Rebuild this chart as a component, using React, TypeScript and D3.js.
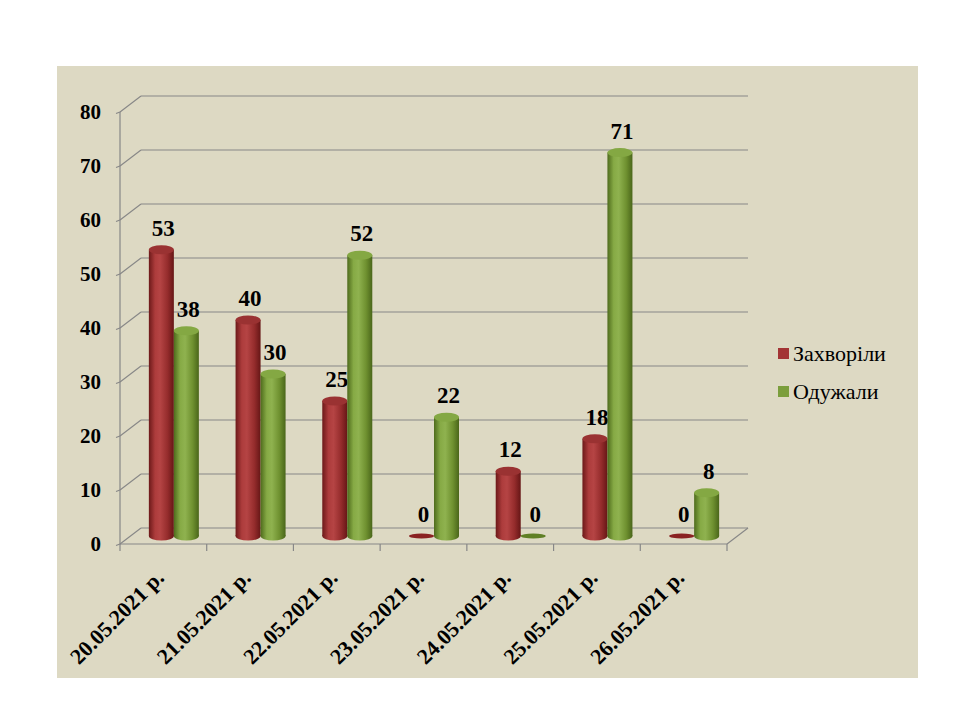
import * as d3 from 'd3'

const categories = [
  '20.05.2021 р.',
  '21.05.2021 р.',
  '22.05.2021 р.',
  '23.05.2021 р.',
  '24.05.2021 р.',
  '25.05.2021 р.',
  '26.05.2021 р.',
]
const seriesNames = ['Захворіли', 'Одужали']
const sick = [53, 40, 25, 0, 12, 18, 0]
const recovered = [38, 30, 52, 22, 0, 71, 8]
const yTicks = [0, 10, 20, 30, 40, 50, 60, 70, 80]

const FONT = "'Liberation Serif', 'Times New Roman', 'DejaVu Serif', serif"
const GRID = '#878787'
const DX = 21 // depth offset of back wall
const DY = -16

export default function App() {
  const W = 960
  const H = 720

  const left = 120
  const right = 727
  const y = d3.scaleLinear().domain([0, 80]).range([544, 112])
  const x0 = d3.scaleBand<string>().domain(categories).range([left, right])
  const bw = 25
  const x1 = d3.scaleBand<string>().domain(seriesNames).range([0, bw * 2])
  const pad = (x0.bandwidth() - bw * 2) / 2
  const ry = 4.5

  const series = [
    { name: seriesNames[0], values: sick, grad: 'gRed', top: '#9a3232', flat: '#8a2222' },
    { name: seriesNames[1], values: recovered, grad: 'gGreen', top: '#84a843', flat: '#5f7f25' },
  ]

  // bars sit halfway into the depth
  const mx = DX / 2
  const my = DY / 2

  return (
    <svg width={W} height={H} style={{ position: 'absolute', left: 0, top: 0, fontFamily: FONT }}>
      <defs>
        <linearGradient id="gRed" x1="0" x2="1" y1="0" y2="0">
          <stop offset="0%" stopColor="#6c1919" />
          <stop offset="25%" stopColor="#ad3c3c" />
          <stop offset="45%" stopColor="#b54444" />
          <stop offset="75%" stopColor="#952c2c" />
          <stop offset="100%" stopColor="#661616" />
        </linearGradient>
        <linearGradient id="gGreen" x1="0" x2="1" y1="0" y2="0">
          <stop offset="0%" stopColor="#4e6b1c" />
          <stop offset="25%" stopColor="#86aa45" />
          <stop offset="45%" stopColor="#8fb24f" />
          <stop offset="75%" stopColor="#6f9130" />
          <stop offset="100%" stopColor="#4a661a" />
        </linearGradient>
      </defs>
      <rect x={0} y={0} width={W} height={H} fill="#ffffff" />
      <rect x={57} y={66} width={861} height={612} fill="#ddd9c3" />

      {/* back wall gridlines with the diagonal from the front axis */}
      {yTicks.map((t) => (
        <g key={'g' + t} stroke={GRID} strokeWidth={1.2} fill="none">
          <line x1={left + DX} x2={right + DX} y1={y(t) + DY} y2={y(t) + DY} />
          <line x1={left} x2={left + DX} y1={y(t)} y2={y(t) + DY} />
          <line x1={left - 4} x2={left} y1={y(t) + 1.5} y2={y(t)} />
        </g>
      ))}
      {/* front axis and floor */}
      <g stroke={GRID} strokeWidth={1.2} fill="none">
        <line x1={left} x2={left} y1={y(80)} y2={y(0)} />
        <line x1={left} x2={right} y1={y(0)} y2={y(0)} />
        <line x1={right} x2={right + DX} y1={y(0)} y2={y(0) + DY} />
        {categories.map((c) => (
          <line key={'t' + c} x1={x0(c)!} x2={x0(c)!} y1={y(0)} y2={y(0) + 7} />
        ))}
        <line x1={right} x2={right} y1={y(0)} y2={y(0) + 7} />
      </g>

      {/* y tick labels */}
      {yTicks.map((t) => (
        <text
          key={'yl' + t}
          x={101}
          y={y(t)}
          dy="0.35em"
          textAnchor="end"
          fontSize={21}
          fontWeight="bold"
        >
          {t}
        </text>
      ))}

      {/* cylinders */}
      {categories.map((c, i) =>
        series.map((s) => {
          const v = s.values[i]
          const bx = x0(c)! + pad + x1(s.name)! + mx
          const cx = bx + bw / 2
          const yb = y(0) + my
          const yt = y(v) + my
          if (v === 0) {
            return (
              <g key={c + s.name}>
                <ellipse cx={cx} cy={yb} rx={bw / 2} ry={2.6} fill={s.flat} />
                <text x={cx + 2} y={yt - 14} textAnchor="middle" fontSize={23} fontWeight="bold">
                  {v}
                </text>
              </g>
            )
          }
          return (
            <g key={c + s.name}>
              <ellipse cx={cx} cy={yb} rx={bw / 2} ry={ry} fill={`url(#${s.grad})`} />
              <rect x={bx} y={yt} width={bw} height={yb - yt} fill={`url(#${s.grad})`} />
              <ellipse cx={cx} cy={yt} rx={bw / 2} ry={ry} fill={s.top} />
              <text x={cx + 2} y={yt - 14} textAnchor="middle" fontSize={23} fontWeight="bold">
                {v}
              </text>
            </g>
          )
        })
      )}

      {/* x labels */}
      {categories.map((c) => {
        const ax = x0(c)! + x0.bandwidth() / 2 + 2
        const ay = 579
        return (
          <text
            key={'xl' + c}
            transform={`translate(${ax},${ay}) rotate(-45)`}
            textAnchor="end"
            fontSize={22}
            fontWeight="bold"
          >
            {c}
          </text>
        )
      })}

      {/* legend */}
      {series.map((s, i) => (
        <g key={'lg' + s.name} transform={`translate(778,${348 + i * 38})`}>
          <rect x={0} y={0} width={11} height={11} fill={i === 0 ? '#a33535' : '#7b9e3c'} />
          <text x={15} y={13} fontSize={22}>
            {s.name}
          </text>
        </g>
      ))}
    </svg>
  )
}
